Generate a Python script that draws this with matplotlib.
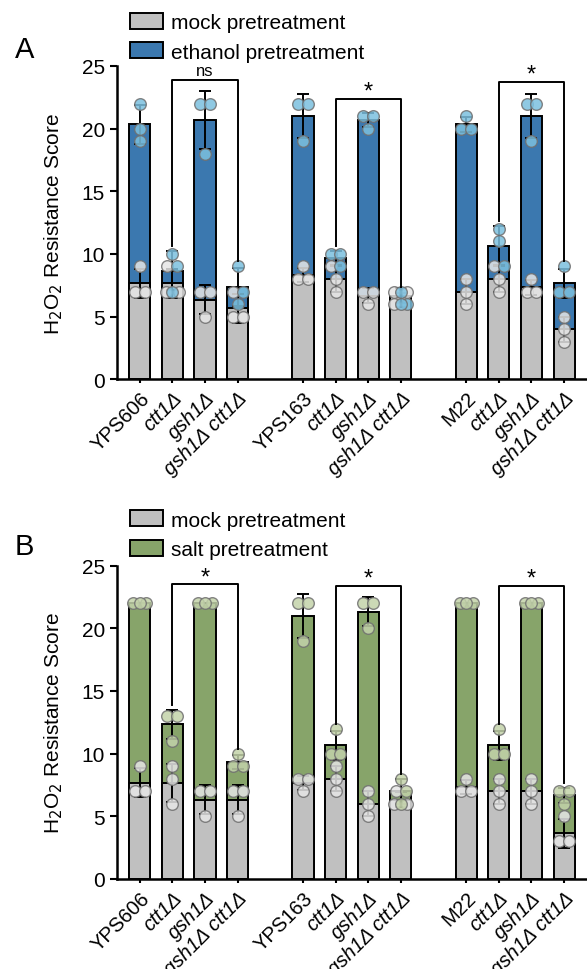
import numpy as np
import matplotlib.pyplot as plt
from matplotlib.patches import Patch

plt.rcParams['font.family'] = ['Liberation Sans', 'DejaVu Sans']

# strain / mutant labels (12 bars, 3 background strains)
tick_labels = ['YPS606', 'ctt1Δ', 'gsh1Δ', 'gsh1Δ ctt1Δ',
               'YPS163', 'ctt1Δ', 'gsh1Δ', 'gsh1Δ ctt1Δ',
               'M22', 'ctt1Δ', 'gsh1Δ', 'gsh1Δ ctt1Δ']
italic = [False, True, True, True] * 3

# Panel A: replicate scores (3 per bar)
mock_A = [[9, 7, 7], [9, 7, 7], [7, 7, 5], [7, 5, 5],
          [9, 8, 8], [9, 8, 7], [7, 7, 6], [7, 7, 6],
          [8, 7, 6], [9, 8, 7], [8, 7, 7], [5, 4, 3]]
ethanol_A = [[22, 20, 19], [10, 9, 7], [22, 22, 18], [9, 7, 6],
             [22, 22, 19], [10, 10, 9], [21, 21, 20], [7, 6, 6],
             [21, 20, 20], [12, 11, 9], [22, 22, 19], [9, 7, 7]]

# Panel B
mock_B = [[9, 7, 7], [9, 8, 6], [7, 7, 5], [7, 7, 5],
          [8, 8, 7], [9, 8, 7], [7, 6, 5], [7, 6, 6],
          [8, 7, 7], [8, 7, 6], [8, 7, 6], [5, 3, 3]]
salt_B = [[22, 22, 22], [13, 13, 11], [22, 22, 22], [10, 9, 9],
          [22, 22, 19], [12, 10, 10], [22, 22, 20], [8, 7, 6],
          [22, 22, 22], [12, 10, 10], [22, 22, 22], [7, 7, 6]]

# significance brackets: (left bar, right bar)
brackets = [(1, 3), (5, 7), (9, 11)]
bracket_y_A = [23.9, 22.4, 23.7]
sig_A = ['ns', '*', '*']
bracket_y_B = [23.5, 23.4, 23.4]
sig_B = ['*', '*', '*']

GREY = '#c0c0c0'
xpos = np.array([i + i // 4 for i in range(12)], dtype=float)


def jitter(mock, treat):
    # spread points sharing the same value side by side
    vals = [(v, 'm') for v in mock] + [(v, 't') for v in treat]
    out_m, out_t = [], []
    groups = {}
    for v, s in vals:
        groups.setdefault(v, []).append(s)
    for v, members in groups.items():
        n = len(members)
        d = {1: 0, 2: 0.3, 3: 0.2}.get(n, 0.15)
        slots = [(k - (n - 1) / 2) * d for k in range(n)]
        order = [0, 2, 1] if n == 3 else list(range(n))
        for s, k in zip(members, order):
            (out_m if s == 'm' else out_t).append((slots[k], v))
    return out_m, out_t


def panel(ax, mock, treat, color, pcolor, by, sig):
    w = 0.65
    m_mean = [np.mean(r) for r in mock]
    t_mean = [np.mean(r) for r in treat]
    m_sd = [np.std(r, ddof=1) for r in mock]
    t_sd = [np.std(r, ddof=1) for r in treat]
    ax.bar(xpos, t_mean, width=w, color=color, edgecolor='black', linewidth=1.4, zorder=1)
    ax.bar(xpos, m_mean, width=w, color=GREY, edgecolor='black', linewidth=1.4, zorder=2)
    ax.errorbar(xpos, t_mean, yerr=t_sd, fmt='none', ecolor='black', elinewidth=1.4,
                capsize=4, capthick=1.4, zorder=3)
    ax.errorbar(xpos, m_mean, yerr=m_sd, fmt='none', ecolor='black', elinewidth=1.4,
                capsize=4, capthick=1.4, zorder=3)
    for i in range(12):
        pm, pt = jitter(mock[i], treat[i])
        ax.scatter([xpos[i] + o for o, v in pm], [v for o, v in pm], s=70, color='#e6e6e6',
                   edgecolor='#707070', linewidth=1, alpha=0.85, zorder=4, clip_on=False)
        ax.scatter([xpos[i] + o for o, v in pt], [v for o, v in pt], s=70, color=pcolor,
                   edgecolor='#707070', linewidth=1, alpha=0.85, zorder=5, clip_on=False)

    for (l, r), y, s in zip(brackets, by, sig):
        yl = max(max(mock[l]), max(treat[l]), t_mean[l] + t_sd[l]) + 0.4
        yr = max(max(mock[r]), max(treat[r]), t_mean[r] + t_sd[r]) + 0.4
        ax.plot([xpos[l], xpos[l], xpos[r], xpos[r]], [yl, y, y, yr], color='black',
                lw=1.4, zorder=6, clip_on=False)
        if s == '*':
            ax.text((xpos[l] + xpos[r]) / 2, y - 0.3, s, ha='center', va='bottom',
                    fontsize=17, clip_on=False)
        else:
            ax.text((xpos[l] + xpos[r]) / 2, y + 0.1, s, ha='center', va='bottom',
                    fontsize=12, clip_on=False)

    ax.set_xlim(-0.7, 13.7)
    ax.set_ylim(0, 25)
    ax.set_yticks([0, 5, 10, 15, 20, 25])
    ax.set_xticks(xpos)
    ax.set_xticklabels(tick_labels, rotation=45, ha='right', rotation_mode='anchor')
    for lab, it in zip(ax.get_xticklabels(), italic):
        if it:
            lab.set_fontstyle('italic')
    ax.tick_params(axis='both', labelsize=15, width=1.5, length=5)
    ax.tick_params(axis='x', length=3, labelsize=14.5)
    for sp in ['top', 'right']:
        ax.spines[sp].set_visible(False)
    for sp in ['left', 'bottom']:
        ax.spines[sp].set_linewidth(1.8)
    ax.set_ylabel('H$_2$O$_2$ Resistance Score', fontsize=15, labelpad=12)


fig = plt.figure(figsize=(5.87, 9.70), dpi=100)
axA = fig.add_axes([0.199, 0.608, 0.801, 0.323])
axB = fig.add_axes([0.199, 0.0928, 0.801, 0.323])

panel(axA, mock_A, ethanol_A, '#3b78af', '#7cc0df', bracket_y_A, sig_A)
panel(axB, mock_B, salt_B, '#87a46a', '#c3d3aa', bracket_y_B, sig_B)

for ax, lab2, col, ytop in [(axA, 'ethanol pretreatment', '#3b78af', 0.99),
                            (axB, 'salt pretreatment', '#87a46a', 0.477)]:
    handles = [Patch(facecolor=GREY, edgecolor='black', linewidth=1.4),
               Patch(facecolor=col, edgecolor='black', linewidth=1.4)]
    fig.legend(handles, ['mock pretreatment', lab2], loc='upper left',
               bbox_to_anchor=(0.214, ytop), frameon=False, fontsize=15,
               handlelength=1.6, handleheight=0.8, labelspacing=0.5,
               handletextpad=0.4, borderaxespad=0, borderpad=0.2)

fig.text(0.025, 1 - 50 / 970, 'A', fontsize=21, va='center', ha='left')
fig.text(0.025, 1 - 547 / 970, 'B', fontsize=21, va='center', ha='left')

fig.savefig('out.png', dpi=100)
